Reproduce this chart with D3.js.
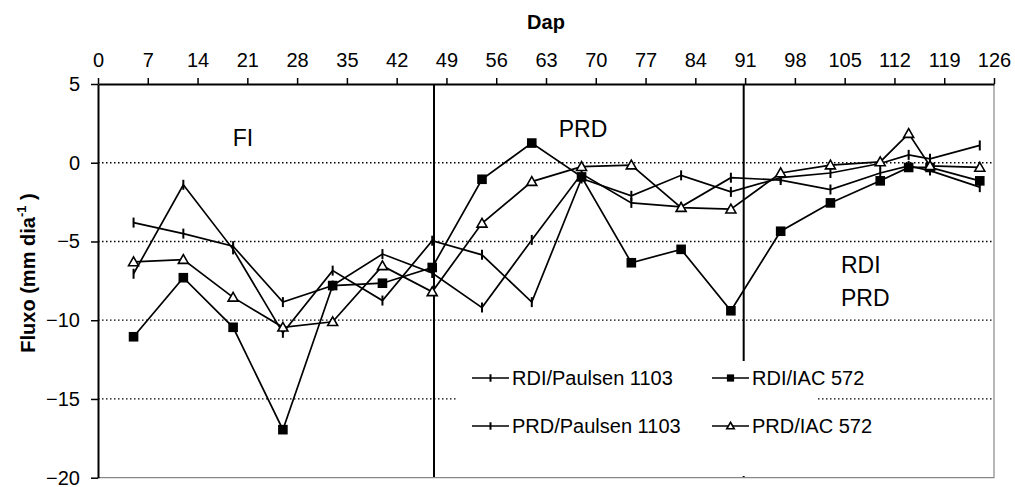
<!DOCTYPE html>
<html>
<head>
<meta charset="utf-8">
<script src="https://cdn.jsdelivr.net/npm/d3@7/dist/d3.min.js"></script>
<style>
  html, body { margin: 0; padding: 0; background: #fff; }
  svg { display: block; font-family: "Liberation Sans", Arial, sans-serif; }
</style>
</head>
<body>
<svg id="chart" width="1015" height="487"></svg>
<script>
// Days after pruning (Dap) at which flux was measured
const days = [5, 12, 19, 26, 33, 40, 47, 54, 61, 68, 75, 82, 89, 96, 103, 110, 114, 117, 124];

// Flux (mm dia-1) per treatment / rootstock
const rdiPaulsen = [-3.8, -4.5, -5.3, -8.85, -7.8, -5.8, -7.0, -9.2, -4.9, -0.7, -2.55, -2.8, -0.95, -1.1, -1.7, -0.65, -0.2, -0.5, -1.55];
const rdiIAC     = [-11.05, -7.3, -10.45, -16.95, -7.8, -7.65, -6.65, -1.05, 1.25, -0.9, -6.35, -5.5, -9.4, -4.35, -2.55, -1.15, -0.3, -0.3, -1.15];
const prdPaulsen = [-7.05, -1.4, -5.5, -10.8, -6.85, -8.75, -4.95, -5.85, -8.85, -1.0, -2.1, -0.8, -1.85, -0.95, -0.65, -0.05, 0.5, 0.25, 1.1];
const prdIAC     = [-6.3, -6.15, -8.55, -10.45, -10.1, -6.55, -8.2, -3.85, -1.2, -0.25, -0.15, -2.85, -2.95, -0.65, -0.15, 0.05, 1.85, -0.2, -0.3];

const seriesNames = ["RDI/Paulsen 1103", "RDI/IAC 572", "PRD/Paulsen 1103", "PRD/IAC 572"];
const seriesMarkers = ["tick", "square", "tick", "triangle"];

// Axis ticks
const xTicks = d3.range(0, 127, 7);
const yTicks = [5, 0, -5, -10, -15, -20];
const gridValues = [0, -5, -10, -15];

// Irrigation phase boundaries (Dap) and phase labels
const phaseBounds = [47.25, 90.8];
const phaseLabels = ["FI", "PRD", "RDI", "PRD"];

const svg = d3.select("#chart");
const W = 1015, H = 487;
const m = { left: 98, right: W - 994, top: 84, bottom: H - 477.7 };

const x = d3.scaleLinear().domain([0, 126]).range([m.left, W - m.right]);
const y = d3.scaleLinear().domain([-20, 5]).range([H - m.bottom, m.top]);

// Dotted horizontal gridlines
svg.append("g").selectAll("line").data(gridValues).join("line")
  .attr("x1", x(0)).attr("x2", x(126))
  .attr("y1", d => y(d)).attr("y2", d => y(d))
  .attr("stroke", "#000").attr("stroke-width", 1.3)
  .attr("stroke-dasharray", "1.5,2.5");

// Phase separators
svg.append("g").selectAll("line").data(phaseBounds).join("line")
  .attr("x1", d => x(d)).attr("x2", d => x(d))
  .attr("y1", y(5)).attr("y2", y(-20))
  .attr("stroke", "#000").attr("stroke-width", 2);

// Legend background (white box, no border), reaching down to the plot floor
const legendBox = { x: 458, y: 361, w: 360, h: 115 };
svg.append("rect")
  .attr("x", legendBox.x).attr("y", legendBox.y)
  .attr("width", legendBox.w).attr("height", legendBox.h)
  .attr("fill", "#fff");

// Grey plot-area border (right, bottom)
svg.append("path")
  .attr("d", `M${x(126)},${y(5)}V${y(-20)}H${x(0)}`)
  .attr("fill", "none").attr("stroke", "#888").attr("stroke-width", 1.2);

// Axes
const xAxis = d3.axisTop(x).tickValues(xTicks).tickSize(6).tickSizeOuter(0).tickPadding(11);
const gx = svg.append("g").attr("transform", `translate(0,${y(5)})`).call(xAxis);
const yAxis = d3.axisLeft(y).tickValues(yTicks).tickSize(7).tickSizeOuter(0).tickPadding(11);
const gy = svg.append("g").attr("transform", `translate(${x(0)},0)`).call(yAxis);
[gx, gy].forEach(g => {
  g.selectAll("path").attr("stroke", "#000").attr("stroke-width", 2);
  g.selectAll("line").attr("stroke", "#000").attr("stroke-width", 1.5);
  g.selectAll("text").attr("font-size", 20).attr("fill", "#000")
    .attr("font-family", "'Liberation Sans', Arial, sans-serif");
});

// Axis titles
svg.append("text")
  .attr("x", 546).attr("y", 29)
  .attr("text-anchor", "middle")
  .attr("font-size", 20).attr("font-weight", "bold")
  .text("Dap");

const yt = svg.append("text")
  .attr("transform", "translate(35,273) rotate(-90)")
  .attr("text-anchor", "middle")
  .attr("font-size", 20).attr("font-weight", "bold");
yt.append("tspan").text("Fluxo (mm dia");
yt.append("tspan").attr("font-size", 13).attr("dy", -9).text("-1");
yt.append("tspan").attr("dy", 9).text(" )");

// Phase labels
const labelPos = [
  { x: 243, y: 146, anchor: "middle" },
  { x: 583, y: 137, anchor: "middle" },
  { x: 841, y: 273, anchor: "start" },
  { x: 841, y: 306, anchor: "start" }
];
svg.append("g").selectAll("text").data(phaseLabels).join("text")
  .attr("x", (d, i) => labelPos[i].x).attr("y", (d, i) => labelPos[i].y)
  .attr("text-anchor", (d, i) => labelPos[i].anchor)
  .attr("font-size", 23)
  .text(d => d);

// Marker drawing
function drawMarker(sel, type, scale) {
  const s = scale || 1;
  if (type === "tick") {
    sel.append("line")
      .attr("x1", 0).attr("x2", 0).attr("y1", -5 * s).attr("y2", 5 * s)
      .attr("stroke", "#000").attr("stroke-width", 2);
  } else if (type === "square") {
    sel.append("rect")
      .attr("x", -4.8 * s).attr("y", -4.8 * s).attr("width", 9.6 * s).attr("height", 9.6 * s)
      .attr("fill", "#000");
  } else if (type === "triangle") {
    const a = 5 * s;
    sel.append("path")
      .attr("d", `M0,${-a}L${a},${a * 0.75}L${-a},${a * 0.75}Z`)
      .attr("fill", "#fff").attr("stroke", "#000").attr("stroke-width", 1.6);
  }
}

const allSeries = [rdiPaulsen, rdiIAC, prdPaulsen, prdIAC];
const line = d3.line().x((d, i) => x(days[i])).y(d => y(d));

allSeries.forEach((vals, si) => {
  const g = svg.append("g");
  g.append("path").datum(vals)
    .attr("d", line)
    .attr("fill", "none").attr("stroke", "#000").attr("stroke-width", 1.7);
  g.selectAll("g.pt").data(vals).join("g")
    .attr("class", "pt")
    .attr("transform", (d, i) => `translate(${x(days[i])},${y(d)})`)
    .each(function () { drawMarker(d3.select(this), seriesMarkers[si]); });
});

// Legend (2 x 2)
const legendPos = [
  { x: 472, y: 378 }, { x: 712, y: 378 },
  { x: 472, y: 426 }, { x: 712, y: 426 }
];
const lg = svg.append("g").selectAll("g").data(seriesNames).join("g")
  .attr("transform", (d, i) => `translate(${legendPos[i].x},${legendPos[i].y})`);
lg.append("line").attr("x1", 0).attr("x2", 37).attr("y1", 0).attr("y2", 0)
  .attr("stroke", "#000").attr("stroke-width", 1.7);
lg.append("g").attr("transform", "translate(18.5,0)")
  .each(function (d, i) { drawMarker(d3.select(this), seriesMarkers[i], 0.75); });
lg.append("text").attr("x", 40).attr("y", 7)
  .attr("font-size", 20)
  .text(d => d);
</script>
</body>
</html>
